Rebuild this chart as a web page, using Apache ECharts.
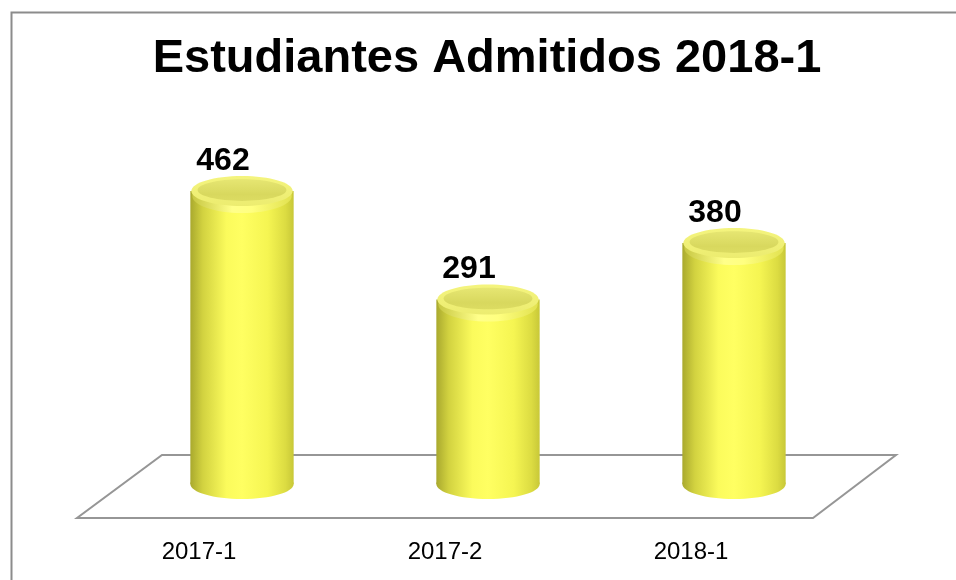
<!DOCTYPE html>
<html>
<head>
<meta charset="utf-8">
<script src="https://cdn.jsdelivr.net/npm/echarts@6/dist/echarts.min.js"></script>
<style>
html,body{margin:0;padding:0;background:#fff;}
#chart{width:956px;height:580px;}
</style>
</head>
<body>
<div id="chart"></div>
<script>
const titleText = 'Estudiantes Admitidos 2018-1';
const categories = ['2017-1', '2017-2', '2018-1'];
const admitted = [462, 291, 380];

const FONT = "'Liberation Sans', Arial, sans-serif";
const chart = echarts.init(document.getElementById('chart'), null, {renderer: 'canvas'});

function bodyGradient() {
  return new echarts.graphic.LinearGradient(0, 0, 1, 0, [
    {offset: 0, color: '#A9A92E'},
    {offset: 0.12, color: '#D2D240'},
    {offset: 0.35, color: '#FBFB5C'},
    {offset: 0.5, color: '#FFFF62'},
    {offset: 0.75, color: '#F5F552'},
    {offset: 0.92, color: '#DCDC42'},
    {offset: 1, color: '#C8C838'}
  ]);
}

function renderCylinder(params, api) {
  const cat = api.value(0);
  const val = api.value(1);
  const base = api.coord([cat, 0]);
  const top = api.coord([cat, val]);
  const bw = api.size([1, 0])[0] * 0.42;
  const rx = bw / 2, ry = 15;
  const cx = base[0];
  return {
    type: 'group',
    children: [
      {type: 'ellipse', shape: {cx: cx, cy: base[1], rx: rx, ry: ry}, style: {fill: bodyGradient()}},
      {type: 'rect', shape: {x: cx - rx, y: top[1], width: bw, height: base[1] - top[1]}, style: {fill: bodyGradient()}},
      // bevel highlight band under the cap
      {type: 'ellipse', shape: {cx: cx, cy: top[1] + 5, rx: rx - 2, ry: ry + 2},
        style: {fill: new echarts.graphic.LinearGradient(0, 0, 1, 0, [
          {offset: 0, color: '#C8C843'}, {offset: 0.4, color: '#FFFF8A'}, {offset: 0.6, color: '#FFFF80'}, {offset: 1, color: '#E2E250'}
        ])}},
      // cap rim
      {type: 'ellipse', shape: {cx: cx, cy: top[1], rx: rx - 1, ry: ry},
        style: {fill: new echarts.graphic.LinearGradient(0, 0, 0, 1, [
          {offset: 0, color: '#F4F47E'}, {offset: 1, color: '#ECEC70'}
        ])}},
      // cap flat top
      {type: 'ellipse', shape: {cx: cx, cy: top[1] - 1, rx: rx * 0.86, ry: ry * 0.72},
        style: {fill: new echarts.graphic.LinearGradient(0, 0, 0, 1, [
          {offset: 0, color: '#E6E672'}, {offset: 0.7, color: '#D8D85E'}, {offset: 1, color: '#DCDC62'}
        ])}},
      {type: 'text', x: cx - 19, y: top[1] - 30,
        style: {text: String(val), fill: '#000', font: 'bold 32px ' + FONT, align: 'center', verticalAlign: 'middle'}}
    ]
  };
}

function renderFloor(params, api) {
  const cs = params.coordSys;
  const gx = cs.x, gr = cs.x + cs.width, base = cs.y + cs.height;
  return {
    type: 'polygon',
    shape: {points: [[gx + 43, base - 29], [gr + 39, base - 29], [gr - 44, base + 34], [gx - 42, base + 34]]},
    style: {fill: '#fff', stroke: '#969696', lineWidth: 2}
  };
}

chart.setOption({
  animation: false,
  backgroundColor: '#fff',
  graphic: [{
    type: 'rect', left: 9, top: 10, z: -10,
    shape: {x: 0, y: 0, width: 1000, height: 1000},
    style: {fill: 'none', stroke: '#8c8c8c', lineWidth: 2}
  }],
  title: {
    text: titleText,
    left: 482, textAlign: 'center', top: 31,
    textStyle: {fontFamily: FONT, fontWeight: 'bold', fontSize: 47, color: '#000'}
  },
  grid: {left: 119, right: 99, top: 167, bottom: 96},
  xAxis: {
    type: 'category', data: categories,
    axisLine: {show: false}, axisTick: {show: false}, splitLine: {show: false},
    axisLabel: {fontFamily: FONT, fontSize: 24, color: '#000', margin: 56, padding: [0, 86, 0, 0]}
  },
  yAxis: {type: 'value', min: 0, max: 500, show: false, splitLine: {show: false}},
  series: [
    {type: 'custom', renderItem: renderFloor, data: [[0, 0]], z: 1, silent: true},
    {type: 'custom', renderItem: renderCylinder, data: categories.map((c, i) => [i, admitted[i]]), z: 2}
  ]
});
</script>
</body>
</html>
